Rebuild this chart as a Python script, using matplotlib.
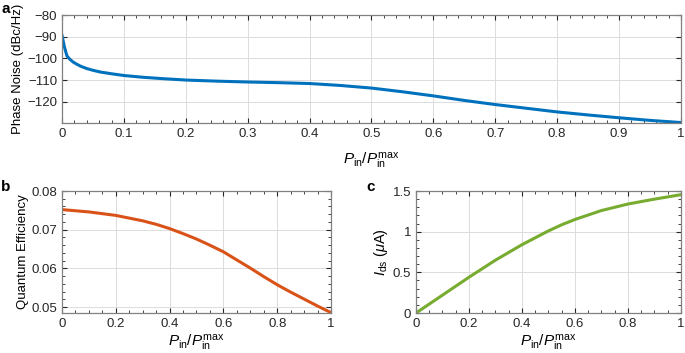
import matplotlib
matplotlib.use("Agg")
import matplotlib.pyplot as plt
from matplotlib.ticker import MultipleLocator

plt.rcParams['font.family'] = ['Liberation Sans', 'DejaVu Sans']
plt.rcParams['mathtext.fontset'] = 'custom'
plt.rcParams['mathtext.rm'] = 'Liberation Sans'
plt.rcParams['mathtext.it'] = 'Liberation Sans:italic'

# phase noise vs normalised input power (panel a)
x_a = [0, 0.004, 0.008, 0.013, 0.018, 0.024, 0.03, 0.04, 0.05, 0.062, 0.08, 0.1,
       0.13, 0.16, 0.2, 0.25, 0.3, 0.35, 0.4, 0.45, 0.5, 0.55, 0.6, 0.65, 0.7,
       0.75, 0.8, 0.85, 0.9, 0.95, 1.0]
phase_noise = [-89.4, -94.8, -98.9, -100.5, -101.7, -102.7, -103.6, -104.7, -105.5,
               -106.3, -107.1, -107.9, -108.7, -109.3, -110.0, -110.5, -110.9,
               -111.2, -111.6, -112.5, -113.7, -115.4, -117.3, -119.4, -121.3,
               -123.0, -124.7, -126.1, -127.4, -128.6, -129.6]

# quantum efficiency (panel b)
x_b = [0, 0.1, 0.2, 0.3, 0.35, 0.4, 0.45, 0.5, 0.55, 0.6, 0.65, 0.7, 0.75, 0.8,
       0.85, 0.9, 0.95, 1.0]
qe = [0.0752, 0.0746, 0.0737, 0.0723, 0.0714, 0.0703, 0.0690, 0.0676, 0.0660,
      0.0643, 0.0622, 0.0601, 0.0579, 0.0558, 0.0539, 0.0521, 0.0503, 0.0486]

# drain-source current (panel c)
x_c = [0, 0.1, 0.2, 0.3, 0.4, 0.5, 0.55, 0.6, 0.7, 0.8, 0.9, 1.0]
ids = [0, 0.22, 0.44, 0.65, 0.84, 1.01, 1.085, 1.15, 1.26, 1.34, 1.40, 1.455]

xlab = r'$P_\mathrm{in}/P_\mathrm{in}^\mathrm{max}$'
edge = '#262626'


def style(ax):
    ax.tick_params(which='both', direction='in', top=True, right=True,
                   colors=edge, labelsize=9.5, labelcolor='#262626')
    ax.tick_params(which='major', length=3.5, width=0.8)
    ax.tick_params(which='minor', length=2, width=0.6)
    for s in ax.spines.values():
        s.set_color('#808080')
        s.set_linewidth(0.9)
    ax.grid(True, which='major', color='#dcdcdc', linewidth=0.7)
    ax.set_axisbelow(True)


fig = plt.figure(figsize=(6.85, 3.53), dpi=100)

ax_a = fig.add_axes([0.0905, 0.6516, 0.9036, 0.3059])
ax_a.plot(x_a, phase_noise, color='#0072BD', linewidth=2.2)
ax_a.set_xlim(0, 1)
ax_a.set_ylim(-129.8, -80)
ax_a.set_xticks([0, 0.1, 0.2, 0.3, 0.4, 0.5, 0.6, 0.7, 0.8, 0.9, 1.0])
ax_a.xaxis.set_minor_locator(MultipleLocator(0.02))
ax_a.set_yticks([-120, -110, -100, -90, -80])
ax_a.set_xticklabels(['0', '0.1', '0.2', '0.3', '0.4', '0.5', '0.6', '0.7', '0.8', '0.9', '1'])
ax_a.set_yticklabels(['\u2212120', '\u2212110', '\u2212100', '\u221290', '\u221280'])
ax_a.set_ylabel('Phase Noise (dBc/Hz)', fontsize=9.5, labelpad=2)
ax_a.set_xlabel(xlab, fontsize=11, labelpad=8)
style(ax_a)

ax_b = fig.add_axes([0.0905, 0.1133, 0.3927, 0.3456])
ax_b.plot(x_b, qe, color='#D95319', linewidth=2.2)
ax_b.set_xlim(0, 1)
ax_b.set_ylim(0.0485, 0.08)
ax_b.set_xticks([0, 0.2, 0.4, 0.6, 0.8, 1.0])
ax_b.set_xticklabels(['0', '0.2', '0.4', '0.6', '0.8', '1'])
ax_b.xaxis.set_minor_locator(MultipleLocator(0.05))
ax_b.set_yticks([0.05, 0.06, 0.07, 0.08])
ax_b.yaxis.set_minor_locator(MultipleLocator(0.002))
ax_b.set_ylabel('Quantum Efficiency', fontsize=9.5, labelpad=2)
ax_b.set_xlabel(xlab, fontsize=11, labelpad=2)
style(ax_b)

ax_c = fig.add_axes([0.6073, 0.1133, 0.3868, 0.3456])
ax_c.plot(x_c, ids, color='#77AC30', linewidth=2.2)
ax_c.set_xlim(0, 1)
ax_c.set_ylim(0, 1.5)
ax_c.set_xticks([0, 0.2, 0.4, 0.6, 0.8, 1.0])
ax_c.set_xticklabels(['0', '0.2', '0.4', '0.6', '0.8', '1'])
ax_c.xaxis.set_minor_locator(MultipleLocator(0.05))
ax_c.set_yticks([0, 0.5, 1, 1.5])
ax_c.set_yticklabels(['0', '0.5', '1', '1.5'])
ax_c.yaxis.set_minor_locator(MultipleLocator(0.1))
ax_c.set_ylabel(r'$I_\mathrm{ds}$ ($\mu$A)', fontsize=10.5, labelpad=2)
ax_c.set_xlabel(xlab, fontsize=11, labelpad=2)
style(ax_c)

fig.text(0.002, 0.995, 'a', fontsize=11, fontweight='bold', va='top', ha='left')
fig.text(0.002, 0.49, 'b', fontsize=11, fontweight='bold', va='top', ha='left')
fig.text(0.535, 0.49, 'c', fontsize=11, fontweight='bold', va='top', ha='left')

fig.savefig('out.png', dpi=100)
